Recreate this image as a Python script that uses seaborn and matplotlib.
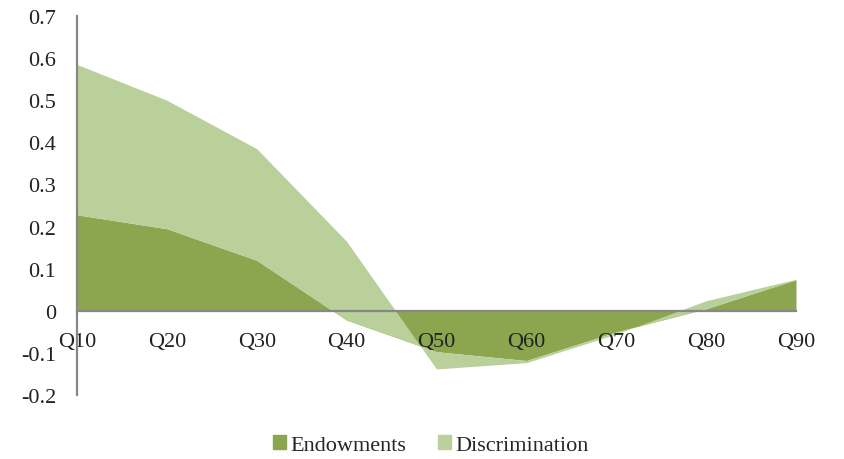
import numpy as np
import matplotlib
matplotlib.use("Agg")
import matplotlib.pyplot as plt
import seaborn as sns
from matplotlib.patches import Patch

quantis = ["Q10", "Q20", "Q30", "Q40", "Q50", "Q60", "Q70", "Q80", "Q90"]
endowments = [0.228, 0.195, 0.120, -0.022, -0.097, -0.118, -0.050, 0.005, 0.074]
discrimination = [0.357, 0.305, 0.265, 0.187, -0.041, -0.005, -0.005, 0.019, 0.001]

cor_endow = "#8BA64F"
cor_discr = "#B9D09A"

sns.set_theme(style="white")
plt.rcParams["font.family"] = ["Liberation Serif", "DejaVu Serif"]

fig, ax = plt.subplots(figsize=(8.45, 4.6), dpi=100)
fig.subplots_adjust(left=0.0911, right=0.942, top=0.963, bottom=0.139)

x = np.arange(len(quantis))
# stacked area, same logic as excel (fill between cumulative sums)
ax.stackplot(x, endowments, discrimination, colors=[cor_endow, cor_discr],
             linewidth=0, antialiased=True)

ax.set_axisbelow(False)  # labels Q50/Q60 ficam por cima da area
ax.set_xlim(0, len(quantis) - 1)
ax.set_ylim(-0.2, 0.7)
ax.set_yticks(np.arange(-0.2, 0.71, 0.1))
ax.set_yticklabels(["-0.2", "-0.1", "0", "0.1", "0.2", "0.3", "0.4", "0.5", "0.6", "0.7"])
ax.set_xticks(x)
ax.set_xticklabels(quantis)

sns.despine(ax=ax, top=True, right=True)
ax.spines["bottom"].set_position(("data", 0))
for s in ["left", "bottom"]:
    ax.spines[s].set_color("#878787")
    ax.spines[s].set_linewidth(1.6)
    ax.spines[s].set_zorder(3)

ax.tick_params(axis="x", length=0, pad=15, labelsize=16, colors="#222222")
ax.tick_params(axis="y", length=0, pad=15, labelsize=16, colors="#222222")
for lab in ax.get_yticklabels():
    lab.set_horizontalalignment("right")

handles = [Patch(color=cor_endow, label="Endowments"),
           Patch(color=cor_discr, label="Discrimination")]
fig.legend(handles=handles, loc="center", bbox_to_anchor=(0.51, 0.03), ncol=2,
           frameon=False, fontsize=16, handlelength=0.6, handleheight=0.6,
           handletextpad=0.2, columnspacing=1.4)

fig.savefig("out.png", dpi=100)
